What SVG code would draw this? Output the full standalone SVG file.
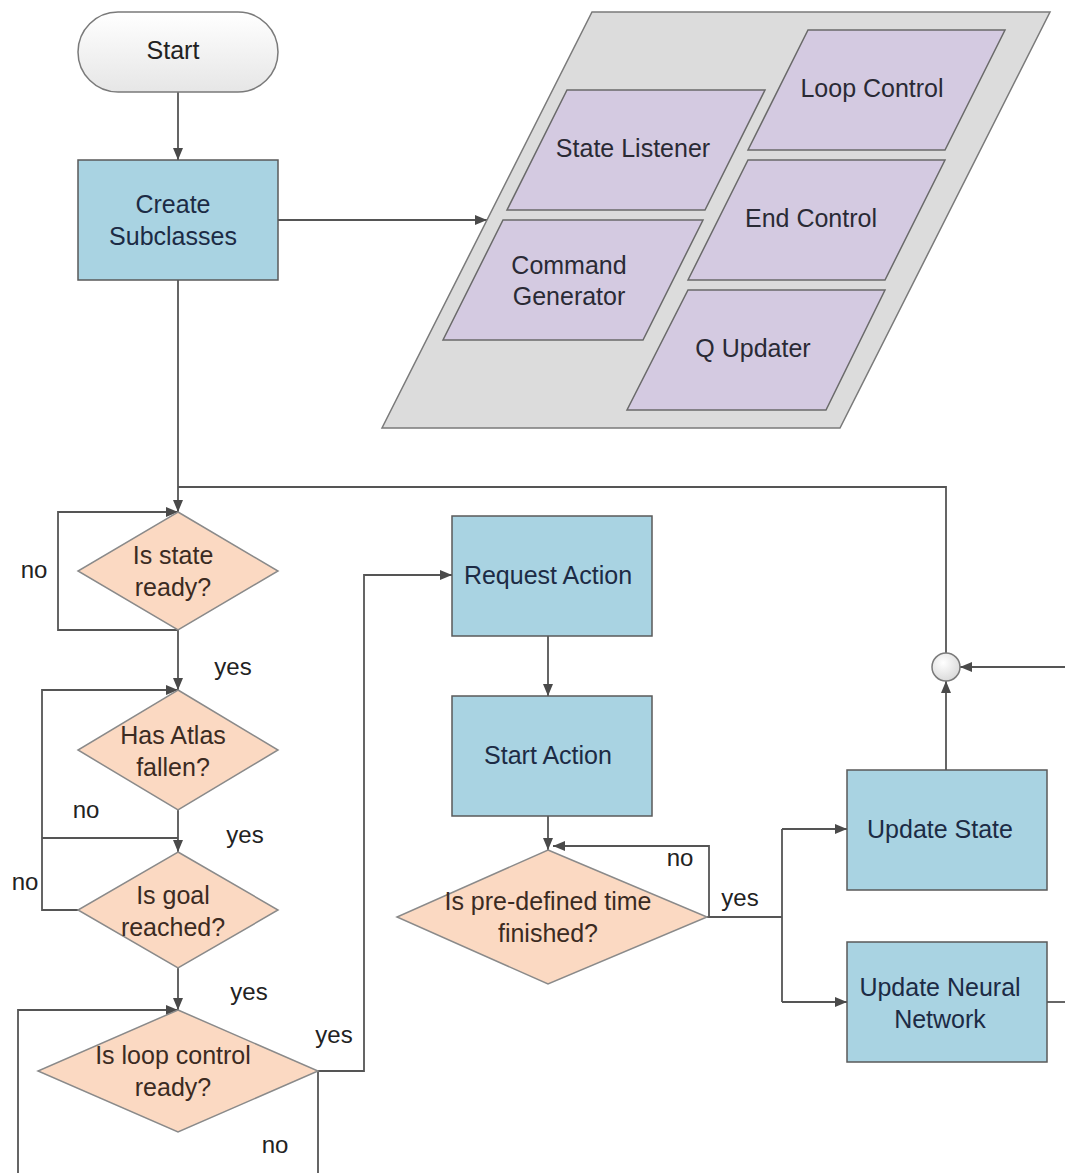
<svg xmlns="http://www.w3.org/2000/svg" width="1065" height="1173" viewBox="0 0 1065 1173">
  <defs>
    <marker id="arrow" markerWidth="12" markerHeight="10" refX="12" refY="5" orient="auto" markerUnits="userSpaceOnUse">
      <path d="M0,0 L12,5 L0,10 z" fill="#4a4a4a"/>
    </marker>
    <linearGradient id="termFill" x1="0" y1="0" x2="0" y2="1">
      <stop offset="0" stop-color="#ffffff"/>
      <stop offset="1" stop-color="#e6e6e6"/>
    </linearGradient>
    <radialGradient id="joinFill" cx="0.4" cy="0.35" r="0.7">
      <stop offset="0" stop-color="#ffffff"/>
      <stop offset="1" stop-color="#d8d8d8"/>
    </radialGradient>
    <style>
      text { font-family: "Liberation Sans", Arial, sans-serif; font-size: 25px; text-anchor: middle; }
      .box { fill: #a9d3e2; stroke: #5a5a5a; stroke-width: 1.5; }
      .box-t { fill: #1c2b45; }
      .dec { fill: #fbd9c2; stroke: #8a8a8a; stroke-width: 1.5; }
      .dec-t { fill: #3b2b22; }
      .panel { fill: #dcdcdc; stroke: #7a7a7a; stroke-width: 1.5; }
      .mod { fill: #d4cae1; stroke: #6a6a6a; stroke-width: 1.5; }
      .mod-t { fill: #2a2a35; }
      .lbl { fill: #222222; font-size: 24px; }
      .wire { fill: none; stroke: #555555; stroke-width: 1.8; }
      .wire-a { fill: none; stroke: #555555; stroke-width: 1.8; marker-end: url(#arrow); }
    </style>
  </defs>

  <rect width="1065" height="1173" fill="#ffffff"/>

  <!-- connectors -->
  <g id="connectors">
    <path class="wire-a" d="M178,92 V160"/>
    <path class="wire-a" d="M278,220 H487"/>
    <path class="wire-a" d="M178,280 V512"/>
    <path class="wire" d="M946,653 V487 H178"/>
    <path class="wire-a" d="M178,630 H58 V512 H178"/>
    <path class="wire-a" d="M178,630 V690"/>
    <path class="wire-a" d="M78,910 H42 V690 H178"/>
    <path class="wire" d="M42,838 H178"/>
    <path class="wire-a" d="M178,810 V852"/>
    <path class="wire-a" d="M178,968 V1010"/>
    <path class="wire-a" d="M18,1173 V1010 H178"/>
    <path class="wire-a" d="M318,1071 H364 V575 H452"/>
    <path class="wire" d="M318,1071 V1173"/>
    <path class="wire-a" d="M548,636 V696"/>
    <path class="wire-a" d="M548,816 V850"/>
    <path class="wire-a" d="M707,917 H709 V846 H553"/>
    <path class="wire" d="M707,917 H782"/>
    <path class="wire" d="M782,829 V1002"/>
    <path class="wire-a" d="M782,829 H847"/>
    <path class="wire-a" d="M782,1002 H847"/>
    <path class="wire-a" d="M946,770 V681"/>
    <path class="wire" d="M1047,1002 H1065"/>
    <path class="wire-a" d="M1065,667 H960"/>
  </g>

  <!-- branch labels -->
  <g id="labels">
    <text class="lbl" x="34" y="578">no</text>
    <text class="lbl" x="233" y="675">yes</text>
    <text class="lbl" x="86" y="818">no</text>
    <text class="lbl" x="245" y="843">yes</text>
    <text class="lbl" x="25" y="890">no</text>
    <text class="lbl" x="249" y="1000">yes</text>
    <text class="lbl" x="334" y="1043">yes</text>
    <text class="lbl" x="275" y="1153">no</text>
    <text class="lbl" x="680" y="866">no</text>
    <text class="lbl" x="740" y="906">yes</text>
  </g>

  <g id="start">
    <rect x="78" y="12" width="200" height="80" rx="40" ry="40" fill="url(#termFill)" stroke="#7a7a7a" stroke-width="1.5"/>
    <text x="173" y="59" fill="#222222">Start</text>
  </g>

  <g id="create-subclasses">
    <rect class="box" x="78" y="160" width="200" height="120"/>
    <text class="box-t" x="173" y="213">Create</text>
    <text class="box-t" x="173" y="245">Subclasses</text>
  </g>

  <!-- subclass panel -->
  <g id="subclasses">
    <polygon class="panel" points="592,12 1050,12 840,428 382,428"/>
    <g id="state-listener">
      <polygon class="mod" points="567,90 765,90 705,210 507,210"/>
      <text class="mod-t" x="633" y="157">State Listener</text>
    </g>
    <g id="command-generator">
      <polygon class="mod" points="503,220 703,220 643,340 443,340"/>
      <text class="mod-t" x="569" y="274">Command</text>
      <text class="mod-t" x="569" y="305">Generator</text>
    </g>
    <g id="loop-control">
      <polygon class="mod" points="808,30 1005,30 945,150 748,150"/>
      <text class="mod-t" x="872" y="97">Loop Control</text>
    </g>
    <g id="end-control">
      <polygon class="mod" points="748,160 945,160 885,280 688,280"/>
      <text class="mod-t" x="811" y="227">End Control</text>
    </g>
    <g id="q-updater">
      <polygon class="mod" points="688,290 885,290 826,410 627,410"/>
      <text class="mod-t" x="753" y="357">Q Updater</text>
    </g>
  </g>

  <g id="is-state-ready">
    <polygon class="dec" points="178,512 278,571 178,630 78,571"/>
    <text class="dec-t" x="173" y="564">Is state</text>
    <text class="dec-t" x="173" y="596">ready?</text>
  </g>

  <g id="has-atlas-fallen">
    <polygon class="dec" points="178,690 278,750 178,810 78,750"/>
    <text class="dec-t" x="173" y="744">Has Atlas</text>
    <text class="dec-t" x="173" y="776">fallen?</text>
  </g>

  <g id="is-goal-reached">
    <polygon class="dec" points="178,852 278,910 178,968 78,910"/>
    <text class="dec-t" x="173" y="904">Is goal</text>
    <text class="dec-t" x="173" y="936">reached?</text>
  </g>

  <g id="is-loop-control-ready">
    <polygon class="dec" points="178,1010 318,1071 178,1132 38,1071"/>
    <text class="dec-t" x="173" y="1064">Is loop control</text>
    <text class="dec-t" x="173" y="1096">ready?</text>
  </g>

  <g id="request-action">
    <rect class="box" x="452" y="516" width="200" height="120"/>
    <text class="box-t" x="548" y="584">Request Action</text>
  </g>

  <g id="start-action">
    <rect class="box" x="452" y="696" width="200" height="120"/>
    <text class="box-t" x="548" y="764">Start Action</text>
  </g>

  <g id="is-time-finished">
    <polygon class="dec" points="548,850 707,917 548,984 397,917"/>
    <text class="dec-t" x="548" y="910">Is pre-defined time</text>
    <text class="dec-t" x="548" y="942">finished?</text>
  </g>

  <g id="update-state">
    <rect class="box" x="847" y="770" width="200" height="120"/>
    <text class="box-t" x="940" y="838">Update State</text>
  </g>

  <g id="update-neural-network">
    <rect class="box" x="847" y="942" width="200" height="120"/>
    <text class="box-t" x="940" y="996">Update Neural</text>
    <text class="box-t" x="940" y="1028">Network</text>
  </g>

  <g id="merge">
    <circle cx="946" cy="667" r="14" fill="url(#joinFill)" stroke="#7a7a7a" stroke-width="1.5"/>
  </g>
</svg>
